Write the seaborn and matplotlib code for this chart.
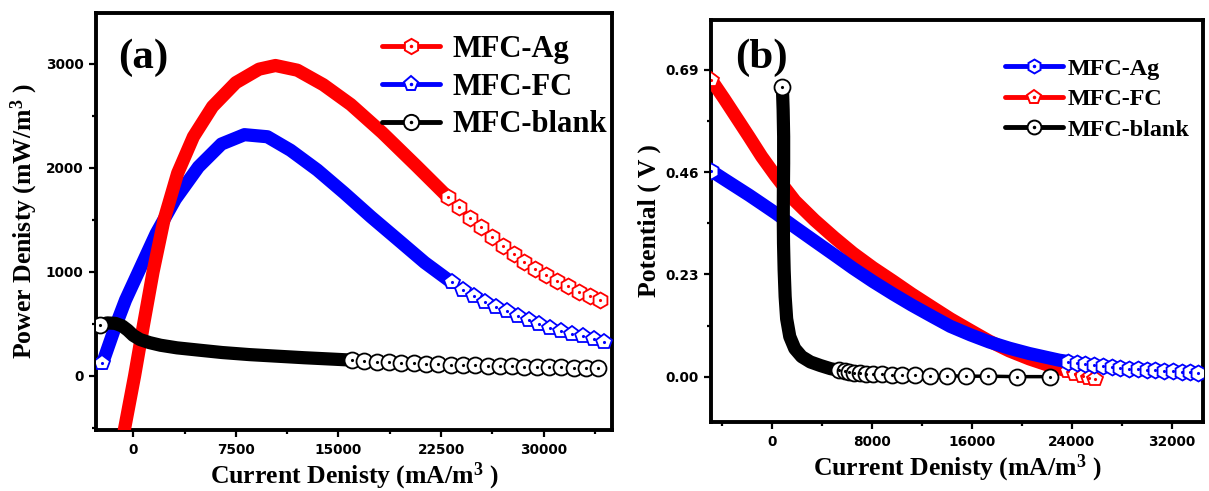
import numpy as np
import pandas as pd
import matplotlib
matplotlib.use("Agg")
import matplotlib.pyplot as plt
from matplotlib.lines import Line2D
from matplotlib.legend_handler import HandlerTuple
from matplotlib.ticker import MultipleLocator, FormatStrFormatter
import seaborn as sns

# ---------------- data ----------------
series_names = ["MFC-Ag", "MFC-FC", "MFC-blank"]

# (a) power density vs current density
ag_a_current = [-650, 100, 750, 1450, 2250, 3250, 4400, 5800, 7500, 9200,
                10400, 12000, 13900, 15900, 18200, 20700, 23000,
                23800, 24600, 25400, 26200, 27000, 27800, 28600, 29400, 30200,
                31000, 31800, 32600, 33400, 34100]
ag_a_power = [-520, 0, 490, 1000, 1500, 1950, 2300, 2590, 2820, 2950,
              2985, 2940, 2800, 2610, 2340, 2020, 1720,
              1620, 1520, 1430, 1340, 1250, 1170, 1100, 1030, 970,
              910, 860, 810, 770, 730]

fc_a_current = [-2250, -1400, -560, 560, 1680, 3080, 4770, 6450, 8130, 9810,
                11500, 13460, 15420, 17380, 19350, 21310, 23270,
                24100, 24900, 25700, 26500, 27300, 28100, 28900, 29700, 30500,
                31300, 32100, 32900, 33700, 34400]
fc_a_power = [120, 440, 730, 1050, 1370, 1700, 2010, 2230, 2320, 2300,
              2170, 1980, 1760, 1530, 1310, 1090, 900,
              830, 770, 715, 665, 620, 575, 535, 500, 465,
              435, 405, 380, 355, 330]

blank_a_current = [-2430, -1900, -1300, -800, -400, 0, 500, 1200, 2000, 3200,
                   4800, 6500, 8500, 10500, 12500, 14500, 16000,
                   16900, 17800, 18700, 19600, 20500, 21400, 22300, 23200, 24100,
                   25000, 25900, 26800, 27700, 28600, 29500, 30400, 31300, 32200,
                   33100, 34000]
blank_a_power = [490, 510, 505, 480, 440, 390, 350, 320, 295, 270,
                 248, 225, 205, 190, 175, 162, 152,
                 145, 138, 132, 126, 121, 117, 113, 109, 105,
                 102, 99, 96, 93, 90, 88, 86, 83, 81,
                 79, 77]

# (b) potential vs current density
ag_b_current = [-4840, -3800, -2800, -1800, -800, 300, 1870, 3430, 5000, 6500,
                8100, 9700, 11200, 12800, 14300, 15900, 17400, 19000, 20600, 22200,
                23000, 23700, 24400, 25100, 25800, 26500, 27200, 27900, 28600,
                29300, 30000, 30700, 31400, 32100, 32800, 33500, 34100]
ag_b_potential = [0.463, 0.444, 0.426, 0.408, 0.389, 0.368, 0.336, 0.305, 0.274, 0.244,
                  0.214, 0.186, 0.161, 0.136, 0.113, 0.094, 0.078, 0.064, 0.052, 0.042,
                  0.037, 0.034, 0.031, 0.028, 0.026, 0.024, 0.022, 0.020, 0.018,
                  0.017, 0.015, 0.014, 0.013, 0.012, 0.011, 0.010, 0.009]

fc_b_current = [-4840, -3800, -2800, -1800, -800, 300, 1870, 3430, 5000, 6500,
                8100, 9700, 11200, 12800, 14300, 15900, 17400, 19000, 20600, 22200,
                23000, 23700, 24300, 24900, 25400, 25900]
fc_b_potential = [0.668, 0.625, 0.582, 0.539, 0.495, 0.452, 0.395, 0.352, 0.313, 0.278,
                  0.245, 0.215, 0.186, 0.157, 0.130, 0.104, 0.080, 0.058, 0.040, 0.025,
                  0.018, 0.012, 0.007, 0.002, -0.002, -0.005]

blank_b_current = [860, 920, 960, 960, 940, 930, 950, 1000, 1080, 1200,
                   1450, 1850, 2400, 3100, 3900, 4700, 5400,
                   5850, 6200, 6600, 7050, 7550, 8130, 8800, 9600, 10400,
                   11460, 12660, 14000, 15520, 17330, 19600, 22300]
blank_b_potential = [0.651, 0.600, 0.540, 0.480, 0.420, 0.360, 0.300, 0.240, 0.180, 0.130,
                     0.090, 0.063, 0.045, 0.033, 0.025, 0.018, 0.014,
                     0.012, 0.010, 0.009, 0.008, 0.007, 0.006, 0.005, 0.004, 0.003,
                     0.003, 0.002, 0.002, 0.001, 0.001, 0.000, 0.000]

a_xticks = [0, 7500, 15000, 22500, 30000]
a_yticks = [0, 1000, 2000, 3000]
b_xticks = [0, 8000, 16000, 24000, 32000]
b_yticks = [0.00, 0.23, 0.46, 0.69]

# ---------------- style ----------------
sns.set_theme(style="ticks")
plt.rcParams.update({
    "font.family": ["DejaVu Sans"],
    "font.weight": "bold",
    "mathtext.fontset": "custom",
    "mathtext.rm": "Liberation Serif:bold",
    "mathtext.bf": "Liberation Serif:bold",
    "mathtext.it": "Liberation Serif:italic:bold",
    "axes.facecolor": "white",
    "figure.facecolor": "white",
    "text.color": "black",
    "axes.labelcolor": "black",
    "xtick.color": "black",
    "ytick.color": "black",
})

RED, BLUE, BLACK = "#ff0000", "#0000ff", "#000000"
BAND_LW = 9.5
MS = 11.5
SERIF = "Liberation Serif"


def draw_curve(ax, cur, val, color, marker, tail_from, z, head=True):
    df = pd.DataFrame({"x": cur, "y": val})
    k = int(np.argmax(np.asarray(cur) >= tail_from))
    dense = df.iloc[:k]
    tail = df.iloc[k - 1:]
    # densely sampled part: overlapping symbols merge into a solid stroke
    sns.lineplot(data=dense, x="x", y="y", ax=ax, sort=False, estimator=None,
                 color=color, lw=BAND_LW, solid_capstyle="round",
                 solid_joinstyle="round", legend=False, zorder=z)
    # sparse part: individual open symbols joined by a thin line
    sns.lineplot(data=tail, x="x", y="y", ax=ax, sort=False, estimator=None,
                 color=color, lw=2.5, marker=marker, ms=MS, mfc="white",
                 mec=color, mew=1.3, legend=False, zorder=z + 0.1)
    ax.plot(tail["x"], tail["y"], ls="none", marker=".", ms=2.5, color=color,
            zorder=z + 0.2)
    if head:
        ax.plot(df["x"].iloc[:1], df["y"].iloc[:1], ls="none", marker=marker, ms=MS,
                mfc="white", mec=color, mew=1.3, zorder=z + 0.15)
        ax.plot(df["x"].iloc[:1], df["y"].iloc[:1], ls="none", marker=".", ms=2.5,
                color=color, zorder=z + 0.2)


def legend_handles(specs, ms):
    handles = []
    for color, marker in specs:
        h1 = Line2D([], [], color=color, lw=3.5, marker=marker, ms=ms,
                    mfc="white", mec=color, mew=1.4)
        h2 = Line2D([], [], ls="none", marker=".", ms=3, color=color)
        handles.append((h1, h2))
    return handles


def style_axes(ax):
    for sp in ax.spines.values():
        sp.set_visible(True)
        sp.set_linewidth(2.8)
        sp.set_color("black")
    ax.tick_params(which="both", direction="out", width=1.6, colors="black",
                   top=False, right=False, labelsize=9.8, pad=4)
    ax.tick_params(which="major", length=5)
    ax.tick_params(which="minor", length=3)
    ax.grid(False)


fig = plt.figure(figsize=(12.09, 4.91), dpi=100)
W, H = 1209, 491
ax1 = fig.add_axes([96 / W, 1 - 430 / H, (612 - 96) / W, (430 - 13) / H])
ax2 = fig.add_axes([711 / W, 1 - 422 / H, (1203 - 711) / W, (422 - 20) / H])

# ---------------- panel (a) ----------------
draw_curve(ax1, fc_a_current, fc_a_power, BLUE, "p", 24000, 3)
draw_curve(ax1, ag_a_current, ag_a_power, RED, "h", 23500, 4, head=False)
draw_curve(ax1, blank_a_current, blank_a_power, BLACK, "o", 16500, 5)

ax1.set_xlim(-2720, 35000)
ax1.set_ylim(-520, 3490)
ax1.set_xticks(a_xticks)
ax1.set_yticks(a_yticks)
ax1.xaxis.set_minor_locator(MultipleLocator(3750))
ax1.yaxis.set_minor_locator(MultipleLocator(500))
style_axes(ax1)
ax1.set_xlabel("Current Denisty (mA/m$^3$ )", fontfamily=SERIF, fontweight="bold",
               fontsize=18.5, labelpad=3)
ax1.set_ylabel("Power Denisty (mW/m$^3$ )", fontfamily=SERIF, fontweight="bold",
               fontsize=18.5, labelpad=4)
ax1.text(0.042, 0.893, "(a)", transform=ax1.transAxes, ha="left", va="center",
         fontfamily=SERIF, fontweight="bold", fontsize=31)
ax1.legend(legend_handles([(RED, "h"), (BLUE, "p"), (BLACK, "o")], 11), series_names,
           handler_map={tuple: HandlerTuple(ndivide=1, pad=0)}, numpoints=1,
           loc="upper left", bbox_to_anchor=(0.555, 0.947), frameon=False,
           borderpad=0, borderaxespad=0, handlelength=1.87, handletextpad=0.43,
           labelspacing=0.28,
           prop={"family": SERIF, "weight": "bold", "size": 22})

# ---------------- panel (b) ----------------
draw_curve(ax2, fc_b_current, fc_b_potential, RED, "p", 24300, 3)
draw_curve(ax2, ag_b_current, ag_b_potential, BLUE, "h", 24400, 4)
draw_curve(ax2, blank_b_current, blank_b_potential, BLACK, "o", 5800, 5)

ax2.set_xlim(-4850, 34500)
ax2.set_ylim(-0.102, 0.802)
ax2.set_xticks(b_xticks)
ax2.set_yticks(b_yticks)
ax2.yaxis.set_major_formatter(FormatStrFormatter("%.2f"))
ax2.xaxis.set_minor_locator(MultipleLocator(4000))
ax2.yaxis.set_minor_locator(MultipleLocator(0.115))
style_axes(ax2)
ax2.set_xlabel("Current Denisty (mA/m$^3$ )", fontfamily=SERIF, fontweight="bold",
               fontsize=18.5, labelpad=3)
ax2.set_ylabel("Potential ( V )", fontfamily=SERIF, fontweight="bold",
               fontsize=18.5, labelpad=3)
ax2.text(0.049, 0.907, "(b)", transform=ax2.transAxes, ha="left", va="center",
         fontfamily=SERIF, fontweight="bold", fontsize=31)
ax2.legend(legend_handles([(BLUE, "h"), (RED, "p"), (BLACK, "o")], 10), series_names,
           handler_map={tuple: HandlerTuple(ndivide=1, pad=0)}, numpoints=1,
           loc="upper left", bbox_to_anchor=(0.598, 0.906), frameon=False,
           borderpad=0, borderaxespad=0, handlelength=2.4, handletextpad=0.2,
           labelspacing=0.36,
           prop={"family": SERIF, "weight": "bold", "size": 17.4})

fig.savefig("out.png", dpi=100)
